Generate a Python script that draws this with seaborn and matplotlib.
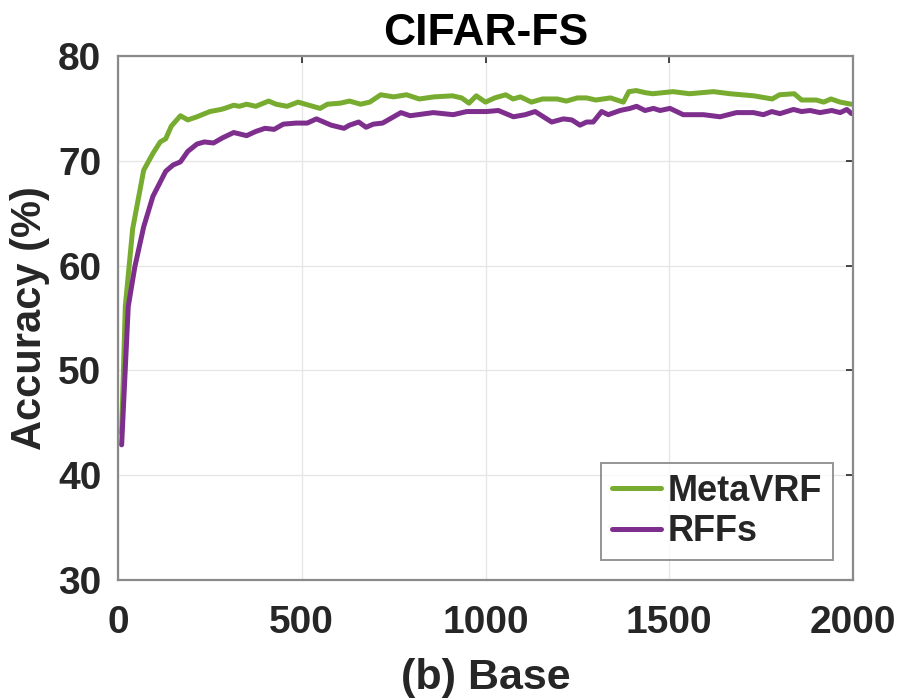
import pandas as pd
import matplotlib
matplotlib.use('Agg')
import matplotlib.pyplot as plt
import seaborn as sns

# Values
iters_metavrf = [10, 20, 40, 70, 95, 115, 130, 145, 170, 190, 215, 250, 280, 290, 315, 330, 350,
                 375, 410, 430, 460, 490, 520, 550, 570, 605, 630, 660, 685, 715, 750, 785, 820,
                 860, 910, 935, 955, 975, 1000, 1025, 1055, 1075, 1095, 1125, 1155, 1195, 1220,
                 1250, 1275, 1300, 1340, 1375, 1390, 1410, 1435, 1455, 1510, 1555, 1620, 1665,
                 1730, 1780, 1800, 1840, 1860, 1900, 1920, 1940, 1965, 1995]
acc_metavrf = [44.0, 56.1, 63.5, 69.1, 70.7, 71.8, 72.1, 73.3, 74.3, 73.9, 74.2, 74.7, 74.9, 75.0,
               75.3, 75.2, 75.4, 75.2, 75.7, 75.4, 75.2, 75.6, 75.3, 75.0, 75.4, 75.5, 75.7, 75.4,
               75.6, 76.3, 76.1, 76.3, 75.9, 76.1, 76.2, 76.0, 75.5, 76.2, 75.6, 76.0, 76.3, 75.9,
               76.1, 75.6, 75.9, 75.9, 75.7, 76.0, 76.0, 75.8, 76.0, 75.6, 76.6, 76.7, 76.5, 76.4,
               76.6, 76.4, 76.6, 76.4, 76.2, 75.9, 76.3, 76.4, 75.8, 75.8, 75.6, 75.9, 75.6, 75.4]

iters_rffs = [10, 28, 46, 70, 95, 130, 150, 170, 190, 215, 235, 260, 285, 315, 350, 375, 400, 425,
              450, 485, 515, 540, 560, 580, 615, 630, 655, 675, 695, 720, 750, 770, 795, 858, 912,
              949, 1003, 1035, 1076, 1108, 1135, 1180, 1212, 1235, 1257, 1275, 1293, 1316, 1334,
              1366, 1393, 1411, 1434, 1457, 1475, 1502, 1538, 1593, 1638, 1683, 1729, 1756, 1779,
              1801, 1838, 1860, 1883, 1910, 1942, 1965, 1983, 1996]
acc_rffs = [42.9, 56.1, 59.9, 63.7, 66.6, 69.0, 69.6, 69.9, 70.9, 71.6, 71.8, 71.7, 72.2, 72.7,
            72.4, 72.8, 73.1, 73.0, 73.5, 73.6, 73.6, 74.0, 73.7, 73.4, 73.1, 73.4, 73.7, 73.2,
            73.5, 73.6, 74.2, 74.6, 74.3, 74.6, 74.4, 74.7, 74.7, 74.8, 74.2, 74.4, 74.7, 73.7,
            74.0, 73.9, 73.4, 73.7, 73.7, 74.7, 74.4, 74.8, 75.0, 75.2, 74.8, 75.0, 74.8, 75.0,
            74.4, 74.4, 74.2, 74.6, 74.6, 74.4, 74.7, 74.5, 74.9, 74.7, 74.8, 74.6, 74.8, 74.6,
            74.9, 74.5]

df = pd.concat([
    pd.DataFrame({'iter': iters_metavrf, 'acc': acc_metavrf, 'method': 'MetaVRF'}),
    pd.DataFrame({'iter': iters_rffs, 'acc': acc_rffs, 'method': 'RFFs'}),
])

sns.set_theme(style='whitegrid')
plt.rcParams['font.family'] = ['Liberation Sans', 'DejaVu Sans']
plt.rcParams['font.weight'] = 'bold'

fig = plt.figure(figsize=(8.97, 7.0), dpi=100)
ax = fig.add_axes([0.1315, 0.1714, 0.8195, 0.7486])

sns.lineplot(data=df, x='iter', y='acc', hue='method', sort=False, estimator=None,
             palette={'MetaVRF': '#77AC30', 'RFFs': '#7E2F8E'}, linewidth=3.6, ax=ax)

ax.set_xlim(0, 2000)
ax.set_ylim(30, 80)
ax.set_xticks([0, 500, 1000, 1500, 2000])
ax.set_yticks([30, 40, 50, 60, 70, 80])
ax.grid(True, color='#e6e6e6', linewidth=1.0)
ax.set_facecolor('white')
for s in ax.spines.values():
    s.set_color('#8a8a8a')
    s.set_linewidth(1.6)
ax.tick_params(direction='in', length=5, width=1.2, color='#262626', top=True, right=True,
               labelsize=28, labelcolor='#262626')
ax.tick_params(axis='x', pad=18)
ax.tick_params(axis='y', pad=12)
for lab in ax.get_xticklabels() + ax.get_yticklabels():
    lab.set_fontweight('bold')

ax.set_title('CIFAR-FS', fontsize=32, fontweight='bold', color='black', pad=8)
ax.set_xlabel('(b) Base', fontsize=31, fontweight='bold', color='#262626', labelpad=12)
ax.set_ylabel('Accuracy (%)', fontsize=30, fontweight='bold', color='#262626')
ax.yaxis.set_label_coords(-0.093, 0.5)

leg = ax.legend(loc='lower right', fontsize=26, frameon=True, fancybox=False,
                handlelength=1.35, handletextpad=0.2, borderpad=0.3, labelspacing=0.15,
                borderaxespad=0.55)
leg.get_frame().set_edgecolor('#7a7a7a')
leg.get_frame().set_linewidth(1.4)
for t in leg.get_texts():
    t.set_fontweight('bold')

plt.savefig('out.png', dpi=100)
